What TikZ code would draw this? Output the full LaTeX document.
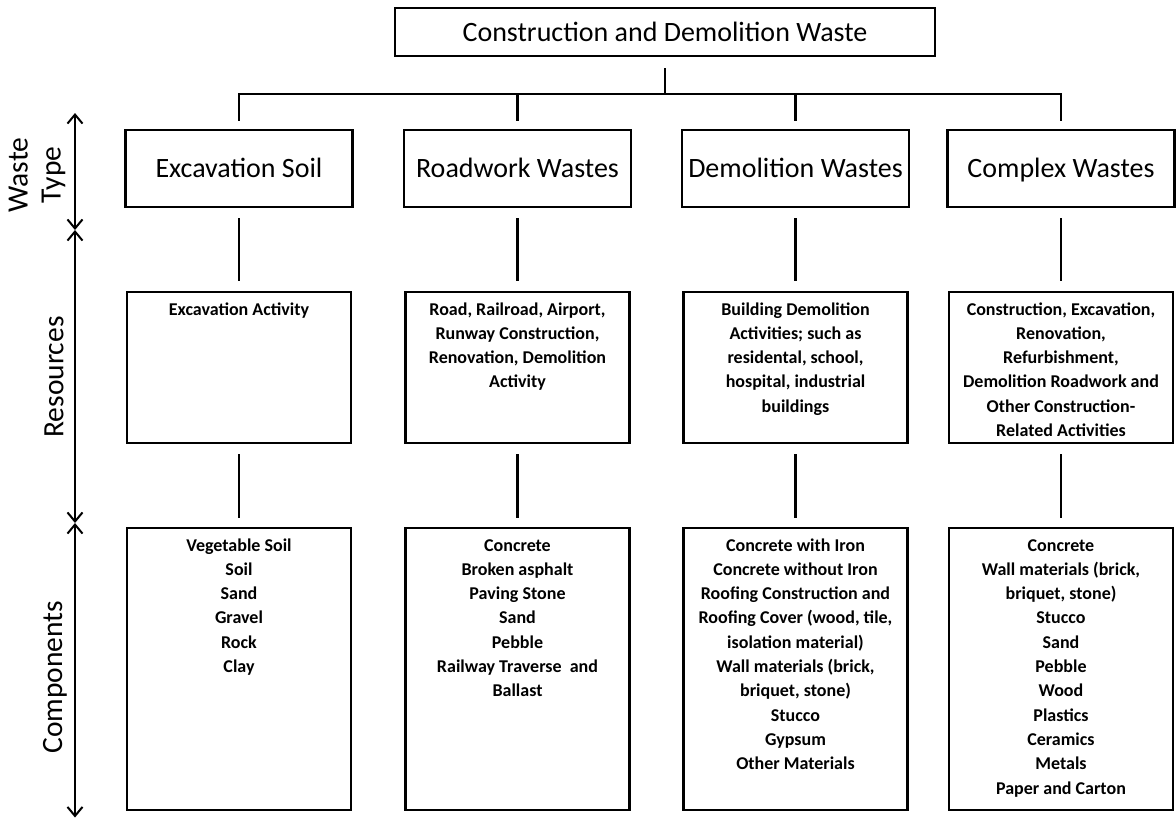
\documentclass[tikz,border=0pt]{standalone}
\usepackage{fontspec}
\setmainfont{Carlito}
\usetikzlibrary{arrows.meta}
\newcommand{\toptext}[3]{\parbox[c][#1][t]{#2}{\centering\fontsize{18}{24.3}\selectfont\bfseries\vspace*{6pt}\strut #3}}
\begin{document}
\begin{tikzpicture}[x=1pt,y=-1pt,
  box/.style={draw, line width=2.5pt, inner sep=0pt, align=center},
  headbox/.style={box, minimum width=227pt, minimum height=77pt, text height=22pt, text depth=4pt, font=\fontsize{28}{32}\selectfont},
  link/.style={line width=2.5pt},
  axis/.style={line width=2pt, {Straight Barb[length=9pt,width=15pt,line width=2pt]}-{Straight Barb[length=9pt,width=15pt,line width=2pt]}},
  sidelabel/.style={rotate=90, align=center, font=\fontsize{29.5}{33}\selectfont}]
\useasboundingbox (0,0) rectangle (1176,819);
\fill[white] (0,0) rectangle (1176,819);

% title
\node[box, minimum width=540pt, minimum height=48pt, font=\fontsize{28}{32}\selectfont] (title) at (665,32) {Construction and Demolition Waste};

% level 1
\node[headbox] (a1) at (239,168.5) {Excavation Soil};
\node[headbox] (a2) at (517.5,168.5) {Roadwork Wastes};
\node[headbox] (a3) at (795.5,168.5) {Demolition Wastes};
\node[headbox] (a4) at (1061,168.5) {Complex Wastes};

% level 2
\node[box] (r1) at (239,367.5) {\toptext{151pt}{224pt}{Excavation Activity}};
\node[box] (r2) at (517.5,367.5) {\toptext{151pt}{224pt}{Road, Railroad, Airport,\\Runway Construction,\\Renovation, Demolition\\Activity}};
\node[box] (r3) at (795.5,367.5) {\toptext{151pt}{224pt}{Building Demolition\\Activities; such as\\residental, school,\\hospital, industrial\\buildings}};
\node[box] (r4) at (1061,367.5) {\toptext{151pt}{224pt}{Construction, Excavation,\\Renovation,\\Refurbishment,\\Demolition Roadwork and\\Other Construction-\\Related Activities}};

% level 3
\node[box] (c1) at (239,669) {\toptext{282pt}{224pt}{Vegetable Soil\\Soil\\Sand\\Gravel\\Rock\\Clay}};
\node[box] (c2) at (517.5,669) {\toptext{282pt}{224pt}{Concrete\\Broken asphalt\\Paving Stone\\Sand\\Pebble\\Railway Traverse~ and\\Ballast}};
\node[box] (c3) at (795.5,669) {\toptext{282pt}{224pt}{Concrete with Iron\\Concrete without Iron\\Roofing Construction and\\Roofing Cover (wood, tile,\\isolation material)\\Wall materials (brick,\\briquet, stone)\\Stucco\\Gypsum\\Other Materials}};
\node[box] (c4) at (1061,669) {\toptext{282pt}{224pt}{Concrete\\Wall materials (brick,\\briquet, stone)\\Stucco\\Sand\\Pebble\\Wood\\Plastics\\Ceramics\\Metals\\Paper and Carton}};

% connectors
\coordinate (bus) at (665,94);
\draw[link, shorten <=11pt] (title.south) -- (bus);
\draw[link, line join=miter, shorten <=8pt, shorten >=8pt] (a1.north) -- (a1.north |- bus) -- (a4.north |- bus) -- (a4.north);
\draw[link, shorten >=8pt] (a2.north |- bus) -- (a2.north);
\draw[link, shorten >=8pt] (a3.north |- bus) -- (a3.north);
\foreach \i in {1,2,3,4} {
  \draw[link, shorten <=10pt, shorten >=10pt] (a\i.south) -- (r\i.north);
  \draw[link, shorten <=10pt, shorten >=9pt] (r\i.south) -- (c\i.north);
}

% side axis
\coordinate (t0) at (75,113);
\coordinate (t1) at (75,230);
\coordinate (t2) at (75,523);
\coordinate (t3) at (75,817.5);
\draw[axis] (t0) -- (t1);
\draw[axis] (t1) -- (t2);
\draw[axis] (t2) -- (t3);
\node[sidelabel] (lw) at (37,175) {Waste\\Type};
\node[sidelabel] (lr) at (54,377) {Resources};
\node[sidelabel] (lc) at (55,677) {Components};
\end{tikzpicture}
\end{document}
